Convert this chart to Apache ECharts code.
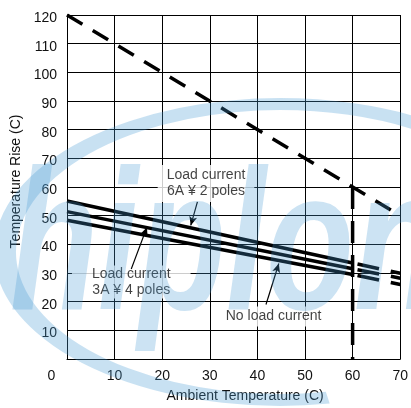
<!DOCTYPE html>
<html>
<head>
<meta charset="utf-8">
<script src="https://cdn.jsdelivr.net/npm/echarts@6/dist/echarts.min.js"></script>
<style>
html,body{margin:0;padding:0;background:#fff;}
#chart{width:411px;height:408px;}
</style>
</head>
<body>
<div id="chart"></div>
<script>
// ---- data ----
const xTicks = [0, 10, 20, 30, 40, 50, 60, 70];
const yTicks = [0, 10, 20, 30, 40, 50, 60, 70, 80, 90, 100, 110, 120];
const curveX = [0, 60, 70];
const sixAmp2Poles = [55.1, 33.5, 29.9];
const threeAmp4Poles = [51.4, 31.5, 28.2];
const noLoad = [48.4, 29.5, 26.0];
const limitX = [0, 70];
const limitY = [120, 50];
const markerX = [60, 60];
const markerY = [60, 0];
const noteTexts = ['Load current\n6A \u00a5 2 poles', 'Load current\n3A \u00a5 4 poles', 'No load current'];
const noteX = [29.2, 13.5, 43.4];
const noteY = [61.2, 26.9, 14.8];
const leaderFrom = [[27.4, 54.8], [13.5, 31.4], [41.8, 19.0]];
const leaderTo = [[26.0, 46.6], [16.8, 46.0], [44.5, 33.3]];

const FONT = '"Liberation Sans", Arial, sans-serif';
const pts = (xs, ys, a, b) => xs.slice(a, b).map((x, i) => [x, ys[a + i]]);
const notePadding = [[2, 9, 3, 9], [0, 20, 1, 20], [2, 6, 2, 6]];

function curve(name, ys) {
  return [
    { name: name, type: 'line', data: pts(curveX, ys, 0, 2), symbol: 'none', z: 5,
      lineStyle: { color: '#000', width: 3.5 } },
    { name: name + ' ext', type: 'line', data: pts(curveX, ys, 1, 3), symbol: 'none', z: 5,
      lineStyle: { color: '#000', width: 3.5, type: [22, 12], dashOffset: 29 } }
  ];
}

const chart = echarts.init(document.getElementById('chart'), null, { renderer: 'canvas' });

const option = {
  animation: false,
  backgroundColor: '#fff',
  grid: { left: 67, top: 15, right: 7, bottom: 45 },
  xAxis: {
    type: 'value', min: xTicks[0], max: xTicks[xTicks.length - 1], interval: 10,
    axisLine: { lineStyle: { color: '#000', width: 1 } },
    axisTick: { show: false },
    splitLine: { lineStyle: { color: '#000', width: 1 } },
    axisLabel: {
      margin: 10, color: '#111', fontSize: 14, fontFamily: FONT,
      formatter: v => v === 0 ? '{z|0}' : String(v),
      rich: { z: { padding: [0, 31, 0, 0], fontSize: 14, fontFamily: FONT, color: '#111' } }
    },
    name: 'Ambient Temperature (C)', nameLocation: 'middle', nameGap: 30,
    nameTextStyle: { color: '#111', fontSize: 14, fontFamily: FONT, padding: [0, 0, 0, 23] }
  },
  yAxis: {
    type: 'value', min: yTicks[0], max: yTicks[yTicks.length - 1], interval: 10,
    axisLine: { show: true, lineStyle: { color: '#000', width: 1 } },
    axisTick: { show: false },
    splitLine: { lineStyle: { color: '#000', width: 1 } },
    axisLabel: { margin: 10, color: '#111', fontSize: 14, fontFamily: FONT, showMinLabel: false,
      formatter: v => '{a|' + v + '}',
      rich: { a: { padding: [6, 0, 0, 0], fontSize: 14, fontFamily: FONT, color: '#111' } } },
    name: 'Temperature Rise (C)', nameLocation: 'middle', nameGap: 41,
    nameTextStyle: { color: '#111', fontSize: 14, fontFamily: FONT, padding: [0, 0, 0, 11] }
  },
  series: [
    { name: 'limit', type: 'line', data: pts(limitX, limitY, 0, 2), symbol: 'none', z: 5,
      lineStyle: { color: '#000', width: 3.5, type: [18, 12] } },
    { name: 'marker', type: 'line', data: pts(markerX, markerY, 0, 2), symbol: 'none', z: 5,
      lineStyle: { color: '#000', width: 3.5, type: [22, 12] } },
    ...curve('6A x 2 poles', sixAmp2Poles),
    ...curve('3A x 4 poles', threeAmp4Poles),
    ...curve('No load', noLoad),
    { name: 'notes', type: 'scatter', symbolSize: 0, z: 3,
      data: noteTexts.map((t, i) => ({ value: [noteX[i], noteY[i]], label: { formatter: t, padding: notePadding[i] } })),
      label: { show: true, position: 'inside', color: '#111', fontSize: 14, fontFamily: FONT,
               lineHeight: 16, align: 'center', verticalAlign: 'middle',
               backgroundColor: '#fff' },
      markLine: {
        silent: true, symbol: ['none', 'arrow'], symbolSize: [6, 9],
        label: { show: false },
        lineStyle: { color: '#000', width: 1.2, type: 'solid' },
        data: leaderFrom.map((f, i) => [{ coord: f }, { coord: leaderTo[i] }])
      }
    }
  ],
  graphic: { elements: [
    { type: 'arc', z: 100, silent: true, scaleY: 0.538, originX: 280, originY: 252,
      shape: { cx: 280, cy: 252, r: 275, startAngle: 80 * Math.PI / 180, endAngle: 310 * Math.PI / 180, clockwise: true },
      style: { fill: null, stroke: 'rgb(72,155,212)', lineWidth: 22, opacity: 0.3, strokeNoScale: true } },
    { type: 'text', z: 100, silent: true, x: 10, y: 154, scaleX: 0.72,
      style: { text: 'hiplon', font: 'italic bold 200px "Liberation Sans"', fill: 'rgb(72,155,212)',
               opacity: 0.28 } }
  ] }
};
chart.setOption(option);
</script>
</body>
</html>
